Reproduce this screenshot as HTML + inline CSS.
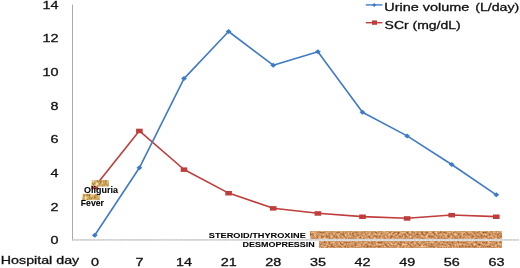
<!DOCTYPE html>
<html><head><meta charset="utf-8"><style>
html,body{margin:0;padding:0;background:#fff;}
body{width:520px;height:268px;overflow:hidden;}
svg{display:block;font-family:"Liberation Sans",sans-serif;}
text{stroke-linejoin:round;}
</style></head><body>
<svg width="520" height="268" viewBox="0 0 520 268">
<defs>
<filter id="tex" x="0" y="0" width="100%" height="100%" color-interpolation-filters="sRGB">
<feTurbulence type="fractalNoise" baseFrequency="0.42 0.5" numOctaves="3" seed="7" result="n"/>
<feColorMatrix type="matrix" values="0.6 0 0 0 0.505  0.78 0 0 0 0.19  0.8 0 0 0 -0.015  0 0 0 0 1" />
<feGaussianBlur stdDeviation="0.45"/>
<feComposite in2="SourceGraphic" operator="in"/>
</filter>
<filter id="tex2" x="0" y="0" width="100%" height="100%" color-interpolation-filters="sRGB">
<feTurbulence type="fractalNoise" baseFrequency="0.55 0.3" numOctaves="2" seed="11" result="n"/>
<feColorMatrix type="matrix" values="0.5 0 0 0 0.56  0.8 0 0 0 0.27  1.1 0 0 0 -0.14  0 0 0 0 1" />
<feComposite in2="SourceGraphic" operator="in"/>
</filter>
</defs>
<rect width="520" height="268" fill="#fff"/>

<rect x="72.0" y="4.6" width="1" height="235.8" fill="#aaaaaa"/>
<line x1="72" y1="239.95" x2="519" y2="239.95" stroke="#dcdcdc" stroke-width="1"/>
<line x1="72" y1="239.95" x2="519" y2="239.95" stroke="#b4b4b4" stroke-width="1" stroke-dasharray="0.9 0.4"/>
<text x="50.5" y="244.4" font-size="10.8" font-weight="normal" fill="#111" stroke="#111" stroke-width="0.3" opacity="0.999" textLength="8.0" lengthAdjust="spacingAndGlyphs">0</text>
<text x="50.5" y="210.7" font-size="10.8" font-weight="normal" fill="#111" stroke="#111" stroke-width="0.3" opacity="0.999" textLength="8.0" lengthAdjust="spacingAndGlyphs">2</text>
<text x="50.5" y="177.1" font-size="10.8" font-weight="normal" fill="#111" stroke="#111" stroke-width="0.3" opacity="0.999" textLength="8.0" lengthAdjust="spacingAndGlyphs">4</text>
<text x="50.5" y="143.4" font-size="10.8" font-weight="normal" fill="#111" stroke="#111" stroke-width="0.3" opacity="0.999" textLength="8.0" lengthAdjust="spacingAndGlyphs">6</text>
<text x="50.5" y="109.8" font-size="10.8" font-weight="normal" fill="#111" stroke="#111" stroke-width="0.3" opacity="0.999" textLength="8.0" lengthAdjust="spacingAndGlyphs">8</text>
<text x="42.5" y="76.1" font-size="10.8" font-weight="normal" fill="#111" stroke="#111" stroke-width="0.3" opacity="0.999" textLength="16.0" lengthAdjust="spacingAndGlyphs">10</text>
<text x="42.5" y="42.4" font-size="10.8" font-weight="normal" fill="#111" stroke="#111" stroke-width="0.3" opacity="0.999" textLength="16.0" lengthAdjust="spacingAndGlyphs">12</text>
<text x="42.5" y="8.8" font-size="10.8" font-weight="normal" fill="#111" stroke="#111" stroke-width="0.3" opacity="0.999" textLength="16.0" lengthAdjust="spacingAndGlyphs">14</text>
<text x="90.9" y="265.5" font-size="10.8" font-weight="normal" fill="#111" stroke="#111" stroke-width="0.3" opacity="0.999" textLength="8.0" lengthAdjust="spacingAndGlyphs">0</text>
<text x="135.5" y="265.5" font-size="10.8" font-weight="normal" fill="#111" stroke="#111" stroke-width="0.3" opacity="0.999" textLength="8.0" lengthAdjust="spacingAndGlyphs">7</text>
<text x="176.1" y="265.5" font-size="10.8" font-weight="normal" fill="#111" stroke="#111" stroke-width="0.3" opacity="0.999" textLength="16.0" lengthAdjust="spacingAndGlyphs">14</text>
<text x="220.7" y="265.5" font-size="10.8" font-weight="normal" fill="#111" stroke="#111" stroke-width="0.3" opacity="0.999" textLength="16.0" lengthAdjust="spacingAndGlyphs">21</text>
<text x="265.3" y="265.5" font-size="10.8" font-weight="normal" fill="#111" stroke="#111" stroke-width="0.3" opacity="0.999" textLength="16.0" lengthAdjust="spacingAndGlyphs">28</text>
<text x="310.0" y="265.5" font-size="10.8" font-weight="normal" fill="#111" stroke="#111" stroke-width="0.3" opacity="0.999" textLength="16.0" lengthAdjust="spacingAndGlyphs">35</text>
<text x="354.6" y="265.5" font-size="10.8" font-weight="normal" fill="#111" stroke="#111" stroke-width="0.3" opacity="0.999" textLength="16.0" lengthAdjust="spacingAndGlyphs">42</text>
<text x="399.2" y="265.5" font-size="10.8" font-weight="normal" fill="#111" stroke="#111" stroke-width="0.3" opacity="0.999" textLength="16.0" lengthAdjust="spacingAndGlyphs">49</text>
<text x="443.8" y="265.5" font-size="10.8" font-weight="normal" fill="#111" stroke="#111" stroke-width="0.3" opacity="0.999" textLength="16.0" lengthAdjust="spacingAndGlyphs">56</text>
<text x="488.4" y="265.5" font-size="10.8" font-weight="normal" fill="#111" stroke="#111" stroke-width="0.3" opacity="0.999" textLength="16.0" lengthAdjust="spacingAndGlyphs">63</text>
<text x="0.8" y="264.2" font-size="11" font-weight="normal" fill="#111" stroke="#111" stroke-width="0.3" opacity="0.999" textLength="78.4" lengthAdjust="spacingAndGlyphs">Hospital day</text>
<rect x="310" y="231.3" width="192" height="7.4" fill="#cf9560"/>
<rect x="310" y="231.3" width="192" height="7.4" fill="#a0622d" filter="url(#tex)"/>
<rect x="319" y="241.2" width="183" height="6.6" fill="#cf9560"/>
<rect x="319" y="241.2" width="183" height="6.6" fill="#a0622d" filter="url(#tex)"/>
<text x="208.8" y="237.7" font-size="8.1" font-weight="bold" fill="#000" stroke="#000" stroke-width="0.08" opacity="0.999" textLength="97.0" lengthAdjust="spacingAndGlyphs">STEROID/THYROXINE</text>
<text x="242.6" y="247.1" font-size="8.1" font-weight="bold" fill="#000" stroke="#000" stroke-width="0.08" opacity="0.999" textLength="72.2" lengthAdjust="spacingAndGlyphs">DESMOPRESSIN</text>
<polyline points="94.8,186.8 139.4,130.8 184.0,169.5 228.6,193.1 273.2,208.2 317.9,213.3 362.5,216.6 407.1,218.3 451.7,215.0 496.3,216.6" fill="none" stroke="#bf3d3a" stroke-width="1.6" stroke-linejoin="round"/>
<rect x="91.5" y="184.7" width="6.6" height="4.5" fill="#bf3d3a"/>
<rect x="136.1" y="128.7" width="6.6" height="4.5" fill="#bf3d3a"/>
<rect x="180.7" y="167.4" width="6.6" height="4.5" fill="#bf3d3a"/>
<rect x="225.3" y="191.0" width="6.6" height="4.5" fill="#bf3d3a"/>
<rect x="269.9" y="206.1" width="6.6" height="4.5" fill="#bf3d3a"/>
<rect x="314.6" y="211.2" width="6.6" height="4.5" fill="#bf3d3a"/>
<rect x="359.2" y="214.5" width="6.6" height="4.5" fill="#bf3d3a"/>
<rect x="403.8" y="216.2" width="6.6" height="4.5" fill="#bf3d3a"/>
<rect x="448.4" y="212.9" width="6.6" height="4.5" fill="#bf3d3a"/>
<rect x="493.0" y="214.5" width="6.6" height="4.5" fill="#bf3d3a"/>
<polyline points="94.8,235.2 139.4,167.8 184.0,78.6 228.6,31.5 273.2,65.2 317.9,51.7 362.5,112.3 407.1,135.9 451.7,164.5 496.3,194.8" fill="none" stroke="#3f7ac6" stroke-width="1.6" stroke-linejoin="round"/>
<path d="M91.9,235.2 L94.8,232.7 L97.7,235.2 L94.8,237.7Z" fill="#3f7ac6"/>
<path d="M136.5,167.8 L139.4,165.3 L142.3,167.8 L139.4,170.3Z" fill="#3f7ac6"/>
<path d="M181.1,78.6 L184.0,76.1 L186.9,78.6 L184.0,81.1Z" fill="#3f7ac6"/>
<path d="M225.7,31.5 L228.6,29.0 L231.5,31.5 L228.6,34.0Z" fill="#3f7ac6"/>
<path d="M270.3,65.2 L273.2,62.7 L276.1,65.2 L273.2,67.7Z" fill="#3f7ac6"/>
<path d="M315.0,51.7 L317.9,49.2 L320.8,51.7 L317.9,54.2Z" fill="#3f7ac6"/>
<path d="M359.6,112.3 L362.5,109.8 L365.4,112.3 L362.5,114.8Z" fill="#3f7ac6"/>
<path d="M404.2,135.9 L407.1,133.4 L410.0,135.9 L407.1,138.4Z" fill="#3f7ac6"/>
<path d="M448.8,164.5 L451.7,162.0 L454.6,164.5 L451.7,167.0Z" fill="#3f7ac6"/>
<path d="M493.4,194.8 L496.3,192.3 L499.2,194.8 L496.3,197.3Z" fill="#3f7ac6"/>
<rect x="91.2" y="180.2" width="17.7" height="6.5" fill="#cba763" filter="url(#tex2)"/>
<rect x="82.2" y="193.9" width="17.6" height="6.3" fill="#cba763" filter="url(#tex2)"/>
<text x="84.1" y="192.5" font-size="8.2" font-weight="bold" fill="#000" stroke="#000" stroke-width="0.08" opacity="0.999" textLength="33.8" lengthAdjust="spacingAndGlyphs">Oliguria</text>
<text x="80.8" y="206.2" font-size="8.2" font-weight="bold" fill="#000" stroke="#000" stroke-width="0.08" opacity="0.999" textLength="23.2" lengthAdjust="spacingAndGlyphs">Fever</text>
<line x1="365.8" y1="4.9" x2="382.4" y2="4.9" stroke="#3f7ac6" stroke-width="1.4"/>
<path d="M372.2,4.9 L374.2,2.9 L376.2,4.9 L374.2,6.9Z" fill="#3f7ac6"/>
<text x="384.3" y="11.1" font-size="11" font-weight="normal" fill="#111" stroke="#111" stroke-width="0.3" opacity="0.999" textLength="85.0" lengthAdjust="spacingAndGlyphs">Urine volume</text>
<text x="475.2" y="11.1" font-size="11" font-weight="normal" fill="#111" stroke="#111" stroke-width="0.3" opacity="0.999" textLength="44.0" lengthAdjust="spacingAndGlyphs">(L/day)</text>
<line x1="365.8" y1="22.7" x2="382.4" y2="22.7" stroke="#bf3d3a" stroke-width="1.4"/>
<rect x="372" y="20.4" width="5" height="4.4" fill="#bf3d3a"/>
<text x="384.6" y="28.9" font-size="11" font-weight="normal" fill="#111" stroke="#111" stroke-width="0.3" opacity="0.999" textLength="76.0" lengthAdjust="spacingAndGlyphs">SCr (mg/dL)</text>
</svg></body></html>
